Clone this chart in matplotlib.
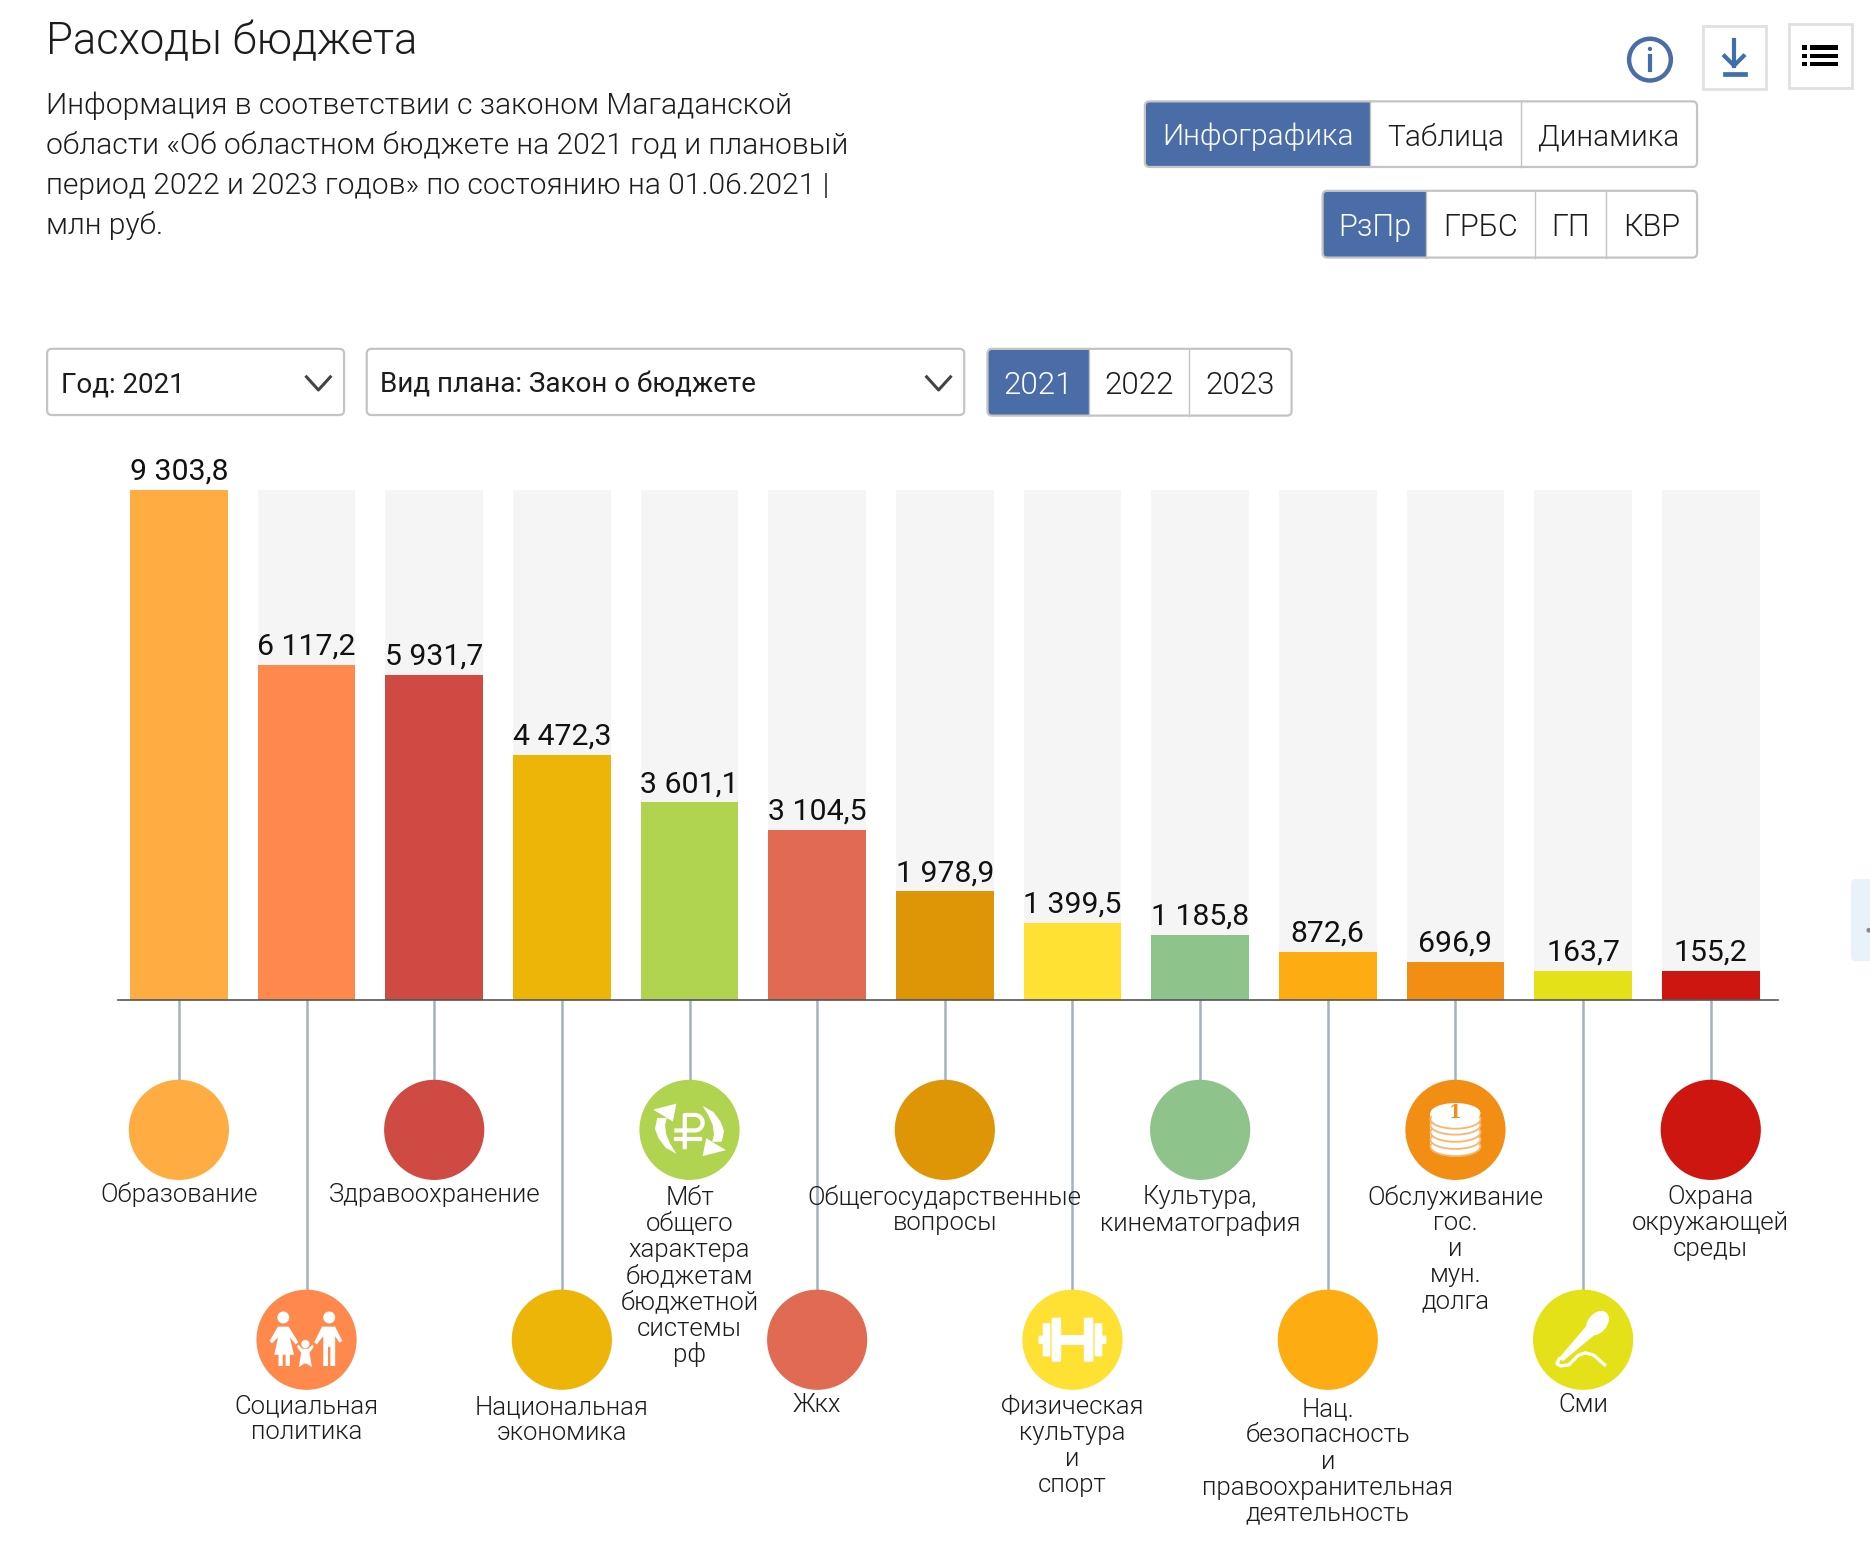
#!/usr/bin/env python3
import numpy as np
import matplotlib
matplotlib.use('Agg')
import matplotlib.pyplot as plt
from matplotlib.patches import Circle, Ellipse, FancyBboxPatch, Polygon, Rectangle

# data
categories = ['Образование', 'Социальная\nполитика', 'Здравоохранение',
              'Национальная\nэкономика',
              'Мбт\nобщего\nхарактера\nбюджетам\nбюджетной\nсистемы\nрф',
              'Жкх', 'Общегосударственные\nвопросы', 'Физическая\nкультура\nи\nспорт',
              'Культура,\nкинематография', 'Нац.\nбезопасность\nи\nправоохранительная\nдеятельность',
              'Обслуживание\nгос.\nи\nмун.\nдолга', 'Сми', 'Охрана\nокружающей\nсреды']
values = [9303.8, 6117.2, 5931.7, 4472.3, 3601.1, 3104.5, 1978.9, 1399.5, 1185.8, 872.6, 696.9, 163.7, 155.2]
value_labels = ['9 303,8', '6 117,2', '5 931,7', '4 472,3', '3 601,1', '3 104,5', '1 978,9',
                '1 399,5', '1 185,8', '872,6', '696,9', '163,7', '155,2']
colors = ['#FFAD42', '#FF884D', '#CF4A43', '#ECB508', '#B0D44F', '#E06B52', '#DE9506',
          '#FFE133', '#8EC38B', '#FDAD12', '#F38E14', '#E4E118', '#CE1610']
label_y = [1000, 1177, 1000, 1178, 1003, 1176, 1002, 1178, 1002, 1180, 1002, 1176, 1002]
min_bar = 523  # the page keeps very small bars at this height

intro = ['Информация в соответствии с законом Магаданской',
         'области «Об областном бюджете на 2021 год и плановый',
         'период 2022 и 2023 годов» по состоянию на 01.06.2021 |',
         'млн руб.']

W, H = 1568, 1306.4   # layout units
PT = 0.8587           # layout unit -> points
plt.rcParams['font.family'] = ['Roboto', 'DejaVu Sans']

fig = plt.figure(figsize=(18.7, 15.58), dpi=100)

# page layer
ui = fig.add_axes([0, 0, 1, 1])
ui.set_xlim(0, W)
ui.set_ylim(H, 0)
ui.axis('off')

# bars
left, right, top, base = 99, 1491, 410.9, 838.3
ax = fig.add_axes([left / W, 1 - base / H, (right - left) / W, (base - top) / H])
ax.patch.set_alpha(0)
step = 107.04
x = np.arange(len(values))
heights = [max(v, min_bar) for v in values]
ax.set_xlim((left - 150) / step, (right - 150) / step)
ax.set_ylim(0, max(values))
ax.bar(x, [max(values)] * len(values), width=82 / step, color='#F5F5F5')
ax.bar(x, heights, width=82 / step, color=colors)
for i, v in enumerate(heights):
    ax.annotate(value_labels[i], (i, v), xytext=(0, 3), textcoords='offset points',
                ha='center', va='bottom', fontsize=25.4 * PT, color='#111111', clip_on=False)
ax.set_xticks([])
ax.set_yticks([])
for s in ['top', 'left', 'right']:
    ax.spines[s].set_visible(False)
ax.spines['bottom'].set_color('#555555')
ax.spines['bottom'].set_linewidth(1.2)


def txt(x0, y0, s, size, color='#1c1c1c', ha='left', weight=300):
    ui.text(x0, y0, s, fontsize=size * PT, color=color, ha=ha, va='center', weight=weight, zorder=5)


def group(x0, x1, y0, y1, dividers, labels, size):
    # button group with the first button highlighted
    ui.add_patch(FancyBboxPatch((x0 + 4, y0 + 4), dividers[0] - x0 - 8, y1 - y0 - 8,
                                boxstyle='round,pad=4', fc='#4A6DA7', ec='none'))
    ui.add_patch(Rectangle((dividers[0] - 8, y0), 8, y1 - y0, fc='#4A6DA7', ec='none'))
    ui.add_patch(FancyBboxPatch((x0 + 4, y0 + 4), x1 - x0 - 8, y1 - y0 - 8,
                                boxstyle='round,pad=4', fc='none', ec='#C4C4C4', lw=1.6))
    edges = [x0] + dividers + [x1]
    for d in dividers:
        ui.plot([d, d], [y0, y1], color='#C4C4C4', lw=1.0)
    for k, s in enumerate(labels):
        txt((edges[k] + edges[k + 1]) / 2, (y0 + y1) / 2 + 2.5, s, size,
            color='white' if k == 0 else '#1c1c1c', ha='center')


def dropdown(x0, x1, s, chev):
    ui.add_patch(FancyBboxPatch((x0 + 4.5, 296.5), x1 - x0 - 9, 47.5, boxstyle='round,pad=4',
                                fc='white', ec='#C4C4C4', lw=1.6))
    txt(x0 + 12, 322.5, s, 23.3, weight=400)
    ui.plot([chev - 10, chev, chev + 10], [316, 327, 316], color='#444444', lw=2.2)


def family(cx, cy):
    for dx, r, dy in [(-19.5, 5, -18.7), (19, 5, -18.7), (-1, 3.5, 3.6)]:
        ui.add_patch(Circle((cx + dx, cy + dy), r, fc='white', ec='none'))
    # woman
    ui.add_patch(Polygon([(cx - 24, cy - 11), (cx - 15, cy - 11), (cx - 7, cy + 2), (cx - 9, cy + 4),
                          (cx - 14, cy - 2), (cx - 10.5, cy + 12.6), (cx - 14, cy + 12.6), (cx - 14, cy + 22),
                          (cx - 17.5, cy + 22), (cx - 17.5, cy + 12.6), (cx - 20, cy + 12.6), (cx - 20, cy + 22),
                          (cx - 23.5, cy + 22), (cx - 23.5, cy + 12.6), (cx - 27, cy + 12.6), (cx - 24, cy - 2),
                          (cx - 29, cy + 3), (cx - 31, cy + 1)], fc='white', ec='none'))
    # man
    ui.add_patch(Polygon([(cx + 13, cy - 11), (cx + 24, cy - 11), (cx + 30, cy + 1), (cx + 27.5, cy + 2.5),
                          (cx + 24, cy - 3), (cx + 24, cy + 22), (cx + 20, cy + 22), (cx + 20, cy + 6),
                          (cx + 18, cy + 6), (cx + 18, cy + 22), (cx + 14, cy + 22), (cx + 14, cy - 3),
                          (cx + 8.5, cy + 4), (cx + 6.5, cy + 2)], fc='white', ec='none'))
    # child
    ui.add_patch(Polygon([(cx - 7, cy + 4), (cx - 3.5, cy + 7.5), (cx + 1.5, cy + 7.5), (cx + 5, cy + 4),
                          (cx + 6, cy + 6), (cx + 2.5, cy + 11), (cx + 4.5, cy + 23), (cx, cy + 20),
                          (cx - 2, cy + 20), (cx - 6.5, cy + 23), (cx - 4.5, cy + 11), (cx - 8, cy + 6)],
                         fc='white', ec='none'))


def ruble(cx, cy):
    # two arrows, the second is the first turned by 180 degrees
    for sgn in [1, -1]:
        head = [(-30.5, -17), (-11, -22), (-14, -7)]
        tail = [(-27, -10), (-29, -1), (-26, 7), (-20, 15), (-11, 20), (-16, 12), (-19.5, 4), (-20.5, -4), (-19, -10)]
        ui.add_patch(Polygon([(cx + sgn * a, cy + sgn * b) for a, b in head], fc='white', ec='none'))
        ui.add_patch(Polygon([(cx + sgn * a, cy + sgn * b) for a, b in tail], fc='white', ec='none'))
    t = np.radians(np.linspace(90, -90, 30))
    ui.plot(np.r_[cx - 4, cx - 4, cx + 4.5 + 6.5 * np.cos(t), cx - 11],
            np.r_[cy + 14.5, cy - 12.5, cy - 6 - 6.5 * np.sin(t), cy + 0.5], color='white', lw=3)
    ui.plot([cx - 11, cx + 9], [cy + 8, cy + 8], color='white', lw=3)


def coins(cx, cy):
    for dy in [14, 8, 2, -4, -9]:
        ui.add_patch(Rectangle((cx - 21, cy + dy - 5), 42, 5, fc='white', ec='none'))
        ui.add_patch(Ellipse((cx, cy + dy), 42, 16, fc='white', ec='#F9B56E', lw=1.3))
    ui.add_patch(Ellipse((cx, cy - 14), 42, 17, fc='white', ec='none'))
    ui.text(cx, cy - 14.5, '1', fontsize=15.5 * PT, color='#F38E14', ha='center', va='center',
            family='DejaVu Serif', weight='bold', zorder=5)


def dumbbell(cx, cy):
    for dx, w, h in [(-28.5, 4, 7), (-25, 6.5, 28), (-17.5, 8, 37), (9.5, 8, 37), (18.5, 6.5, 28), (24.5, 4, 7)]:
        ui.add_patch(FancyBboxPatch((cx + dx + 1, cy - h / 2 + 1), w - 2, h - 2, boxstyle='round,pad=1',
                                    fc='white', ec='none'))
    ui.add_patch(Rectangle((cx - 10, cy - 4.2), 20, 8.4, fc='white', ec='none'))


def mic(cx, cy):
    ui.add_patch(Ellipse((cx + 12, cy - 14), 23, 16, angle=-50, fc='white', ec='none'))
    ui.add_patch(Polygon([(cx + 4, cy - 13), (cx + 12, cy - 6), (cx - 17, cy + 18), (cx - 20, cy + 15)],
                         fc='white', ec='none'))
    ui.plot([cx - 20, cx - 22, cx - 19, cx - 12, cx - 4, cx + 2, cx + 9, cx + 18],
            [cy + 16, cy + 20, cy + 22, cy + 21, cy + 13, cy + 11, cy + 13, cy + 21],
            color='white', lw=2.4)


icons = {1: family, 4: ruble, 7: dumbbell, 10: coins, 11: mic}

# stems, circles and captions
for i, name in enumerate(categories):
    cx = 150 + step * i
    cy = 947.4 if i % 2 == 0 else 1123.4
    ui.plot([cx, cx], [base, cy], color='#A2B3BF', lw=1.8, zorder=1)
    ui.add_patch(Circle((cx, cy), 42, fc=colors[i], ec='none', zorder=2))
    if i in icons:
        before = set(ui.patches) | set(ui.lines)
        icons[i](cx, cy)
        for art in (set(ui.patches) | set(ui.lines)) - before:
            art.set_zorder(3)
    for j, line in enumerate(name.split('\n')):
        txt(cx, label_y[i] + 1.8 + j * 21.85, line, 21.6, ha='center')

# header
txt(38.7, 35, 'Расходы бюджета', 36.6)
for k, line in enumerate(intro):
    txt(38.7, 89 + k * 33.4, line, 25.15)

group(960, 1423, 85, 140, [1149, 1275], ['Инфографика', 'Таблица', 'Динамика'], 25.1)
group(1109, 1423, 160, 216, [1196, 1287, 1347], ['РзПр', 'ГРБС', 'ГП', 'КВР'], 25.7)
dropdown(39, 289, 'Год: 2021', 267)
dropdown(307, 809, 'Вид плана: Закон о бюджете', 787)
group(828, 1083, 292.5, 348.5, [913, 997], ['2021', '2022', '2023'], 26.2)

# toolbar icons
ui.add_patch(Circle((1383.5, 50), 17.5, fc='none', ec='#4A6DA7', lw=3.2))
ui.plot([1383.5, 1383.5], [47, 59], color='#3F70AE', lw=3)
ui.add_patch(Circle((1383.5, 41), 1.8, fc='#3F70AE', ec='none'))
ui.add_patch(Rectangle((1428, 22), 52.5, 53, fc='none', ec='#E0E0E0', lw=2))
ui.add_patch(Rectangle((1500, 20.5), 52.5, 53, fc='none', ec='#E0E0E0', lw=2))
ui.plot([1454, 1454], [33.5, 55], color='#3F70AE', lw=3)
ui.plot([1446, 1454, 1462], [47, 55, 47], color='#3F70AE', lw=3)
ui.plot([1446, 1463], [62, 62], color='#3F70AE', lw=3.4)
for yy in [40, 47, 53.7]:
    ui.add_patch(Rectangle((1511, yy - 2), 4, 4, fc='black', ec='none'))
    ui.add_patch(Rectangle((1518, yy - 2), 23.5, 4, fc='black', ec='none'))

# slide-out tab at the right edge
ui.add_patch(FancyBboxPatch((1556, 741), 20, 61, boxstyle='round,pad=4', fc='#EAF2F9', ec='none'))
ui.add_patch(Circle((1567, 780), 2, fc='#888888', ec='none'))

fig.savefig('out.png', dpi=100)
plt.close(fig)
